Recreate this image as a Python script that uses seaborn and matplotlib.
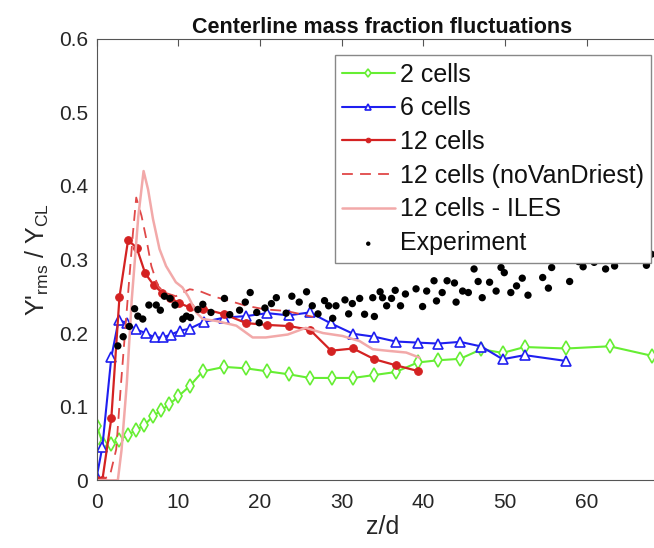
import numpy as np
import pandas as pd
import matplotlib
matplotlib.use("Agg")
import matplotlib.pyplot as plt
import seaborn as sns

# ---------------- data ----------------
green_x = [0, 0.8, 1.8, 2.8, 3.8, 4.8, 5.85, 6.9, 7.9, 8.9, 10.0, 11.4, 13.0, 15.65, 18.3,
           20.9, 23.5, 26.1, 28.8, 31.4, 34.0, 36.6, 39.3, 41.8, 44.5, 47.1, 49.7, 52.4,
           57.5, 62.8, 68.0]
green_y = [0.074, 0.049, 0.049, 0.055, 0.0615, 0.068, 0.075, 0.087, 0.095, 0.103, 0.114,
           0.128, 0.148, 0.154, 0.152, 0.148, 0.144, 0.139, 0.139, 0.139, 0.143, 0.147,
           0.160, 0.163, 0.165, 0.178, 0.173, 0.181, 0.179, 0.182, 0.169]

blue_x = [0, 0.7, 1.8, 2.7, 3.75, 4.8, 6.0, 7.1, 8.1, 9.1, 10.15, 11.4, 13.1, 15.65, 18.3,
          20.9, 23.5, 26.1, 28.7, 31.4, 34.0, 36.6, 39.3, 41.8, 44.5, 47.1, 49.7, 52.4, 57.5]
blue_y = [0.004, 0.045, 0.167, 0.218, 0.213, 0.205, 0.200, 0.194, 0.194, 0.198, 0.203,
          0.206, 0.215, 0.221, 0.223, 0.227, 0.224, 0.228, 0.213, 0.199, 0.195, 0.1885,
          0.187, 0.1857, 0.188, 0.1817, 0.1644, 0.170, 0.162]

red_x = [0, 0.7, 1.8, 2.8, 3.85, 4.9, 5.95, 7.0, 8.0, 9.0, 10.1, 11.4, 13.0, 15.65, 18.3,
         20.9, 23.5, 26.1, 28.7, 31.4, 34.0, 36.6, 39.3]
red_y = [0.0, 0.0, 0.084, 0.249, 0.326, 0.316, 0.281, 0.265, 0.255, 0.248, 0.2405, 0.235,
         0.233, 0.2255, 0.2135, 0.211, 0.2095, 0.2045, 0.176, 0.179, 0.1644, 0.1563, 0.1485]

novd_x = [0, 1.6, 2.4, 3.0, 3.8, 4.45, 4.85, 5.5, 6.1, 6.7, 7.5, 8.3, 9.7, 11.4, 12.6,
          14.2, 16.3, 18.3, 20.7, 23.2, 26.5]
novd_y = [0, 0.005, 0.042, 0.133, 0.246, 0.336, 0.384, 0.359, 0.327, 0.291, 0.264, 0.255,
          0.250, 0.2595, 0.257, 0.250, 0.2436, 0.237, 0.232, 0.230, 0.222]

iles_x = [0, 2.6, 3.05, 3.7, 4.3, 5.1, 5.75, 6.3, 6.9, 7.7, 8.5, 9.7, 10.5, 11.2, 12.2,
          13.0, 14.6, 17.1, 19.1, 20.7, 23.4, 25.6, 27.7, 30.1, 32.2, 33.8, 35.8, 37.9, 39.5]
iles_y = [0, 0.0, 0.041, 0.132, 0.245, 0.358, 0.420, 0.395, 0.355, 0.314, 0.291, 0.269,
          0.262, 0.250, 0.228, 0.219, 0.2165, 0.210, 0.194, 0.194, 0.198, 0.207, 0.200,
          0.196, 0.189, 0.178, 0.1757, 0.1735, 0.1667]

exp_x = [2.6, 3.25, 4.0, 4.65, 5.05, 5.65, 6.4, 7.3, 7.8, 8.3, 9.0, 9.6, 10.55, 11.0, 11.5,
         12.4, 13.0, 14.0, 15.65, 16.3, 17.5, 18.2, 18.8, 19.6, 19.9, 20.6, 21.4, 22.0,
         23.2, 23.9, 24.8, 25.7, 26.4, 27.1, 27.9, 28.4, 28.9, 29.3, 30.4, 30.85, 31.3,
         32.2, 32.8, 33.8, 34.0, 34.7, 35.0, 35.5, 36.1, 36.55, 37.2, 37.8, 39.1, 39.9,
         40.4, 41.3, 41.6, 42.3, 42.9, 43.8, 44.0, 44.8, 45.5, 46.2, 46.7, 47.2, 48.1,
         48.9, 49.5, 49.9, 50.7, 51.4, 52.1, 52.8, 54.6, 55.3, 55.7, 57.9, 59.0, 59.55,
         60.9, 62.3, 63.4, 67.3, 67.9]
exp_y = [0.1825, 0.195, 0.209, 0.233, 0.223, 0.219, 0.238, 0.238, 0.231, 0.250, 0.247,
         0.238, 0.219, 0.223, 0.221, 0.232, 0.239, 0.228, 0.247, 0.225, 0.231, 0.242,
         0.255, 0.228, 0.214, 0.234, 0.240, 0.248, 0.227, 0.250, 0.242, 0.256, 0.237,
         0.226, 0.244, 0.237, 0.220, 0.237, 0.245, 0.226, 0.240, 0.247, 0.2255, 0.248,
         0.2225, 0.256, 0.248, 0.237, 0.247, 0.258, 0.237, 0.253, 0.260, 0.236, 0.257,
         0.271, 0.2436, 0.255, 0.271, 0.268, 0.242, 0.257, 0.255, 0.287, 0.270, 0.248,
         0.269, 0.257, 0.289, 0.282, 0.255, 0.264, 0.2745, 0.2514, 0.2754, 0.261, 0.289,
         0.270, 0.297, 0.290, 0.296, 0.287, 0.291, 0.292, 0.307]

series_labels = ["2 cells", "6 cells", "12 cells", "12 cells (noVanDriest)",
                 "12 cells - ILES", "Experiment"]
x_ticks = [0, 10, 20, 30, 40, 50, 60]
x_tick_labels = ["0", "10", "20", "30", "40", "50", "60"]
y_ticks = [0, 0.1, 0.2, 0.3, 0.4, 0.5, 0.6]
y_tick_labels = ["0", "0.1", "0.2", "0.3", "0.4", "0.5", "0.6"]
title_text = "Centerline mass fraction fluctuations"
x_label = "z/d"
y_label = r"Y'$_{\rm rms}$ / Y$_{\rm CL}$"

# ---------------- style ----------------
sns.set_theme(style="white")
plt.rcParams["font.family"] = ["Liberation Sans", "DejaVu Sans"]
plt.rcParams["mathtext.fontset"] = "custom"
plt.rcParams["mathtext.rm"] = "Liberation Sans"
plt.rcParams["mathtext.it"] = "Liberation Sans:italic"
plt.rcParams["mathtext.bf"] = "Liberation Sans:bold"

c_green = "#66ee33"
c_blue = "#1f1ff0"
c_red = "#d42222"
c_dash = "#e04848"
c_iles = "#f2a9a9"

fig = plt.figure(figsize=(6.54, 5.48), dpi=100)
W, H = 654.0, 548.0
x0px, x70px, ytop, ybot = 96.6, 668.5, 38.5, 480.3
ax = fig.add_axes([x0px / W, (H - ybot) / H, (x70px - x0px) / W, (ybot - ytop) / H])

sns.lineplot(x=green_x, y=green_y, ax=ax, color=c_green, lw=1.5, marker="d",
             markersize=7.5, markerfacecolor="white", markeredgecolor=c_green,
             markeredgewidth=1.2, estimator=None, sort=False, label=series_labels[0])
sns.lineplot(x=blue_x, y=blue_y, ax=ax, color=c_blue, lw=1.5, marker="^",
             markersize=7, markerfacecolor="white", markeredgecolor=c_blue,
             markeredgewidth=1.2, estimator=None, sort=False, label=series_labels[1])
sns.lineplot(x=red_x, y=red_y, ax=ax, color=c_red, lw=1.6, marker="o",
             markersize=5.5, markerfacecolor=c_red, markeredgecolor=c_red,
             estimator=None, sort=False, label=series_labels[2])
sns.lineplot(x=novd_x, y=novd_y, ax=ax, color=c_dash, lw=1.3, estimator=None,
             sort=False, label=series_labels[3], dashes=False, linestyle=(0, (6, 4)))
sns.lineplot(x=iles_x, y=iles_y, ax=ax, color=c_iles, lw=1.8, estimator=None,
             sort=False, label=series_labels[4])
sns.scatterplot(x=exp_x, y=exp_y, ax=ax, color="black", s=28, edgecolor="none",
                label=series_labels[5], zorder=3)

ax.set_xlim(0, 70)
ax.set_ylim(0, 0.6)
ax.set_xticks(x_ticks, labels=x_tick_labels)
ax.set_yticks(y_ticks, labels=y_tick_labels)
ax.tick_params(direction="in", length=5, width=0.8, color="#555555",
               top=True, right=True, labelsize=15, labelcolor="#262626")
ax.tick_params(axis="x", pad=9)
ax.tick_params(axis="y", pad=6)
for s in ax.spines.values():
    s.set_color("#555555")
    s.set_linewidth(0.8)

ax.set_title(title_text, fontsize=15.5, fontweight="bold", color="#111111", pad=4)
ax.set_xlabel(x_label, fontsize=18, color="#262626", labelpad=2)
ax.set_ylabel(y_label, fontsize=18, color="#262626", labelpad=6)

leg = ax.legend(loc="upper right", bbox_to_anchor=(651 / W, 1 - 55 / H),
                bbox_transform=fig.transFigure, fontsize=18, frameon=True,
                fancybox=False, edgecolor="#888888", framealpha=1.0,
                handlelength=2.1, handletextpad=0.2, borderpad=0.3,
                labelspacing=0.39, borderaxespad=0, markerscale=0.6)
leg.get_frame().set_linewidth(1.0)
for t in leg.get_texts():
    t.set_color("#111111")

fig.savefig("out.png", dpi=100)
